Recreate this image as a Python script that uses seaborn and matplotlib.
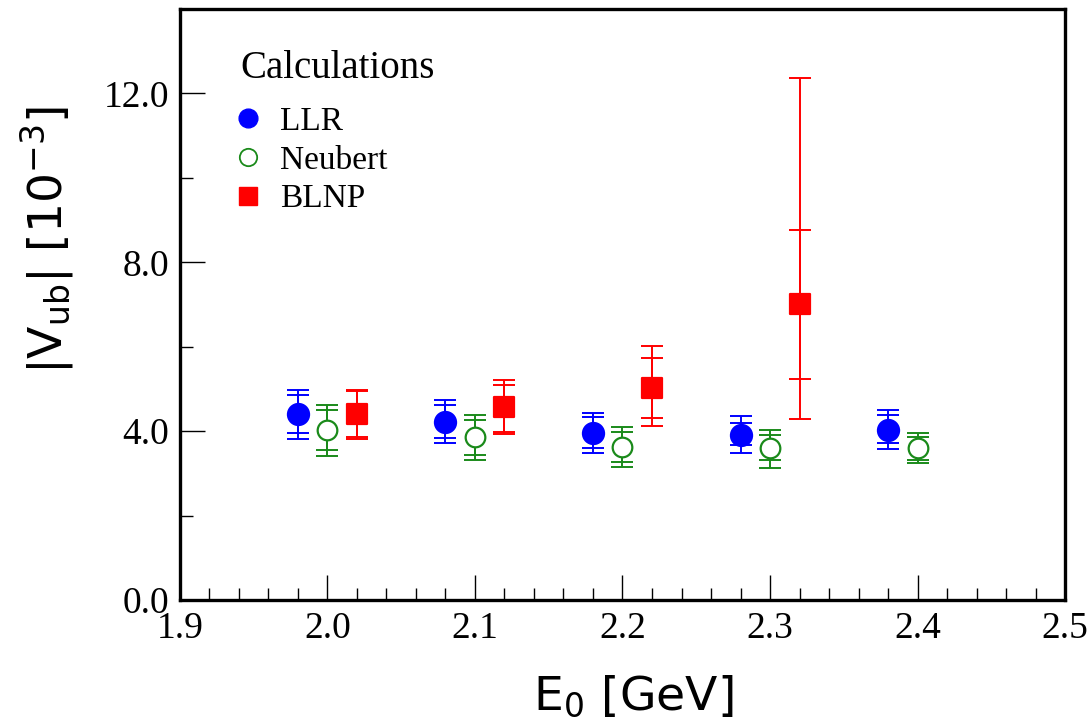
import numpy as np
import pandas as pd
import matplotlib
matplotlib.use("Agg")
import matplotlib.pyplot as plt
from matplotlib.lines import Line2D
from matplotlib.ticker import MultipleLocator, FormatStrFormatter
import seaborn as sns

# ---- data: |Vub| [1e-3] versus cut energy E0 [GeV] ----
e0_llr = [1.98, 2.08, 2.18, 2.28, 2.38]
vub_llr = [4.40, 4.22, 3.96, 3.92, 4.02]
inner_lo_llr = [0.45, 0.39, 0.37, 0.25, 0.30]
inner_hi_llr = [0.45, 0.39, 0.37, 0.27, 0.36]
outer_lo_llr = [0.58, 0.51, 0.48, 0.43, 0.45]
outer_hi_llr = [0.58, 0.51, 0.47, 0.44, 0.48]

e0_neu = [2.00, 2.10, 2.20, 2.30, 2.40]
vub_neu = [4.02, 3.86, 3.63, 3.59, 3.59]
inner_lo_neu = [0.46, 0.42, 0.35, 0.28, 0.27]
inner_hi_neu = [0.47, 0.41, 0.36, 0.32, 0.28]
outer_lo_neu = [0.60, 0.54, 0.47, 0.47, 0.35]
outer_hi_neu = [0.59, 0.53, 0.47, 0.44, 0.36]

e0_blnp = [2.02, 2.12, 2.22, 2.32]
vub_blnp = [4.40, 4.56, 5.03, 7.00]
inner_lo_blnp = [0.55, 0.58, 0.73, 1.76]
inner_hi_blnp = [0.55, 0.54, 0.70, 1.76]
outer_lo_blnp = [0.58, 0.63, 0.92, 2.71]
outer_hi_blnp = [0.58, 0.66, 0.99, 5.37]

series_names = ["LLR", "Neubert", "BLNP"]
x_ticks = [1.9, 2.0, 2.1, 2.2, 2.3, 2.4, 2.5]
y_ticks = [0.0, 4.0, 8.0, 12.0]

# ---- style ----
sns.set_style("ticks")
plt.rcParams["font.family"] = ["Liberation Serif", "DejaVu Serif"]
plt.rcParams["mathtext.default"] = "regular"
for key in ("text.color", "axes.labelcolor", "xtick.color", "ytick.color",
            "axes.edgecolor"):
    plt.rcParams[key] = "black"

fig = plt.figure(figsize=(10.88, 7.2), dpi=100)
ax = fig.add_axes([0.1654, 0.1667, 0.8135, 0.8208])

df = pd.concat([
    pd.DataFrame({"E0": e0_llr, "Vub": vub_llr,
                  "ilo": inner_lo_llr, "ihi": inner_hi_llr,
                  "olo": outer_lo_llr, "ohi": outer_hi_llr, "calc": "LLR"}),
    pd.DataFrame({"E0": e0_neu, "Vub": vub_neu,
                  "ilo": inner_lo_neu, "ihi": inner_hi_neu,
                  "olo": outer_lo_neu, "ohi": outer_hi_neu, "calc": "Neubert"}),
    pd.DataFrame({"E0": e0_blnp, "Vub": vub_blnp,
                  "ilo": inner_lo_blnp, "ihi": inner_hi_blnp,
                  "olo": outer_lo_blnp, "ohi": outer_hi_blnp, "calc": "BLNP"}),
], ignore_index=True)

colors = {"LLR": "#0000ff", "Neubert": "#1a8a1a", "BLNP": "#ff0000"}
marker_style = {
    "LLR": dict(marker="o", s=230, facecolor="#0000ff", edgecolor="#0000ff"),
    "Neubert": dict(marker="o", s=200, facecolor="white", edgecolor="#1a8a1a"),
    "BLNP": dict(marker="s", s=210, facecolor="#ff0000", edgecolor="#ff0000"),
}

for name in series_names:
    sub = df[df["calc"] == name]
    c = colors[name]
    # outer (total) and inner error bars
    ax.errorbar(sub["E0"], sub["Vub"], yerr=[sub["olo"], sub["ohi"]], fmt="none",
                ecolor=c, elinewidth=1.4, capsize=8, capthick=1.4, zorder=2)
    ax.errorbar(sub["E0"], sub["Vub"], yerr=[sub["ilo"], sub["ihi"]], fmt="none",
                ecolor=c, elinewidth=1.4, capsize=8, capthick=1.4, zorder=2)
    ms = marker_style[name]
    sns.scatterplot(data=sub, x="E0", y="Vub", ax=ax, marker=ms["marker"], s=ms["s"],
                    color=ms["facecolor"], edgecolor=ms["edgecolor"],
                    linewidth=1.6, zorder=3, legend=False)

# ---- axes ----
ax.set_xlim(1.9, 2.5)
ax.set_ylim(0, 14)
ax.set_xticks(x_ticks)
ax.set_yticks(y_ticks)
ax.xaxis.set_major_formatter(FormatStrFormatter("%.1f"))
ax.yaxis.set_major_formatter(FormatStrFormatter("%.1f"))
ax.xaxis.set_minor_locator(MultipleLocator(0.02))
ax.yaxis.set_minor_locator(MultipleLocator(2.0))
ax.tick_params(which="both", direction="in", top=False, right=False,
               width=1.0, color="black", labelcolor="black", labelsize=27)
ax.tick_params(which="major", length=18, pad=8)
ax.tick_params(which="minor", length=9)
for sp in ax.spines.values():
    sp.set_linewidth(2.4)
    sp.set_color("black")
ax.grid(False)

ax.set_xlabel("E$_0$ [GeV]", fontsize=34, family="DejaVu Sans")
ax.set_ylabel("|V$_{ub}$| [10$^{-3}$]", fontsize=34, family="DejaVu Sans")
ax.xaxis.set_label_coords(0.512, -0.124)
ax.yaxis.set_label_coords(-0.118, 0.61)

# ---- legend ----
ax.text(0.068, 0.90, "Calculations", transform=ax.transAxes, fontsize=28,
        ha="left", va="center")
handles = [
    Line2D([], [], linestyle="none", marker="o", markersize=13.5,
           markerfacecolor="#0000ff", markeredgecolor="#0000ff", label="LLR"),
    Line2D([], [], linestyle="none", marker="o", markersize=12.5, markeredgewidth=1.3,
           markerfacecolor="white", markeredgecolor="#1a8a1a", label="Neubert"),
    Line2D([], [], linestyle="none", marker="s", markersize=12.5,
           markerfacecolor="#ff0000", markeredgecolor="#ff0000", label="BLNP"),
]
leg = ax.legend(handles=handles, loc="upper left",
                bbox_to_anchor=(0.062, 0.8355), frameon=False, fontsize=24,
                handlelength=0.8, handletextpad=0.56, labelspacing=0.25,
                borderaxespad=0, borderpad=0)

fig.savefig("out.png", dpi=100)
